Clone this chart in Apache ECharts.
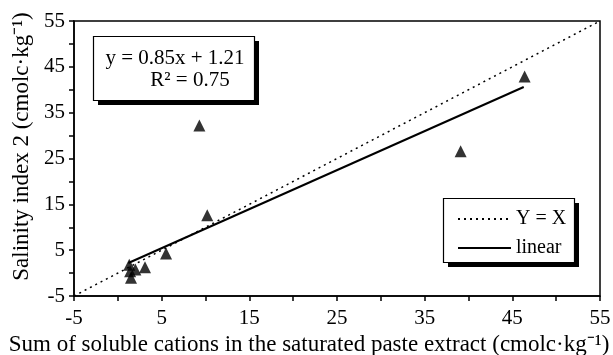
<!DOCTYPE html>
<html>
<head>
<meta charset="utf-8">
<script src="https://cdn.jsdelivr.net/npm/echarts@6/dist/echarts.min.js"></script>
<style>html,body{margin:0;padding:0;background:#fff}#c{width:613px;height:355px}</style>
</head>
<body>
<div id="c"></div>
<script>
// Observed data points (x: sum of soluble cations, y: salinity index 2)
var pointsX = [1.3, 1.5, 2.0, 3.1, 5.5, 10.2, 9.3, 39.1, 46.4, 1.4];
var pointsY = [1.8, -1.0, 0.8, 1.3, 4.3, 12.6, 32.2, 26.6, 42.9, 0.4];
// Reference line Y = X endpoints
var refLineX = [-5, 55];
var refLineY = [-5, 55];
// Fitted linear trend endpoints
var fitLineX = [1.2, 46.3];
var fitLineY = [2.2, 40.6];
// Axis ticks
var axisMin = -5, axisMax = 55, tickStep = 5;
var labeledTicks = [-5, 5, 15, 25, 35, 45, 55];
var eqText = 'y = 0.85x + 1.21';
var r2Text = 'R\u00B2 = 0.75';
var xTitle = 'Sum of soluble cations in the saturated paste extract (cmolc\u00B7kg\u207B\u00B9)';
var yTitle = 'Salinity index 2 (cmolc\u00B7kg\u207B\u00B9)';

var FONT = '"Liberation Serif", "Times New Roman", serif';
function zip(a, b) { return a.map(function (v, i) { return [v, b[i]]; }); }
function labelFmt(v) { return labeledTicks.indexOf(v) >= 0 ? String(v) : ''; }

var chart = echarts.init(document.getElementById('c'));
var axisCommon = {
  type: 'value', min: axisMin, max: axisMax, interval: tickStep,
  splitLine: { show: false },
  axisLine: { onZero: false, lineStyle: { color: '#000', width: 1.5 } },
  axisTick: { inside: false, length: 5, lineStyle: { color: '#000', width: 1.5 } },
  axisLabel: { color: '#000', fontFamily: FONT, fontSize: 21, formatter: labelFmt },
  nameLocation: 'middle',
  nameTextStyle: { color: '#000', fontFamily: FONT, fontSize: 23 }
};
chart.setOption({
  animation: false,
  grid: { left: 74, right: 13, top: 21, bottom: 59, containLabel: false, outerBoundsMode: 'none',
    show: true, borderColor: '#000', borderWidth: 1.5, backgroundColor: 'transparent' },
  xAxis: Object.assign({}, axisCommon, {
    name: xTitle, nameGap: 36,
    axisLabel: Object.assign({}, axisCommon.axisLabel, { margin: 12 }),
    nameTextStyle: Object.assign({}, axisCommon.nameTextStyle, { padding: [0, 56, 0, 0] })
  }),
  yAxis: Object.assign({}, axisCommon, {
    name: yTitle, nameGap: 40,
    axisLabel: Object.assign({}, axisCommon.axisLabel, { margin: 9 }),
    nameTextStyle: Object.assign({}, axisCommon.nameTextStyle, { padding: [0, 0, 0, 24] })
  }),
  legend: {
    orient: 'vertical', left: 452, top: 204,
    itemWidth: 53, itemHeight: 14, itemGap: 9,
    align: 'left',
    itemStyle: { opacity: 0 },
    textStyle: { color: '#000', fontFamily: FONT, fontSize: 20 },
    data: ['Y = X', 'linear'],
    z: 20
  },
  graphic: [
    { type: 'rect', z: 10, shape: { x: 98, y: 41, width: 161, height: 64 }, style: { fill: '#000' } },
    { type: 'rect', z: 11, shape: { x: 93.5, y: 36.5, width: 161, height: 64 }, style: { fill: '#fff', stroke: '#000', lineWidth: 1.2 } },
    { type: 'text', z: 12, x: 175, y: 58, style: { text: eqText, font: '21px ' + FONT, fill: '#000', textAlign: 'center', textVerticalAlign: 'middle' } },
    { type: 'text', z: 12, x: 190, y: 80, style: { text: r2Text, font: '21px ' + FONT, fill: '#000', textAlign: 'center', textVerticalAlign: 'middle' } },
    { type: 'rect', z: 10, shape: { x: 448, y: 203, width: 131, height: 64 }, style: { fill: '#000' } },
    { type: 'rect', z: 11, shape: { x: 443.5, y: 198.5, width: 131, height: 64 }, style: { fill: '#fff', stroke: '#000', lineWidth: 1.2 } }
  ],
  series: [
    { name: 'Y = X', type: 'line', data: zip(refLineX, refLineY), symbol: 'none', z: 3,
      lineStyle: { color: '#000', width: 1.5, type: [2, 4] }, itemStyle: { color: '#000' } },
    { name: 'linear', type: 'line', data: zip(fitLineX, fitLineY), symbol: 'none', z: 3,
      lineStyle: { color: '#000', width: 2, type: 'solid' }, itemStyle: { color: '#000' } },
    { name: 'points', type: 'scatter', data: zip(pointsX, pointsY), symbol: 'triangle', symbolSize: 12, z: 4,
      itemStyle: { color: '#000' } }
  ]
});
</script>
</body>
</html>
